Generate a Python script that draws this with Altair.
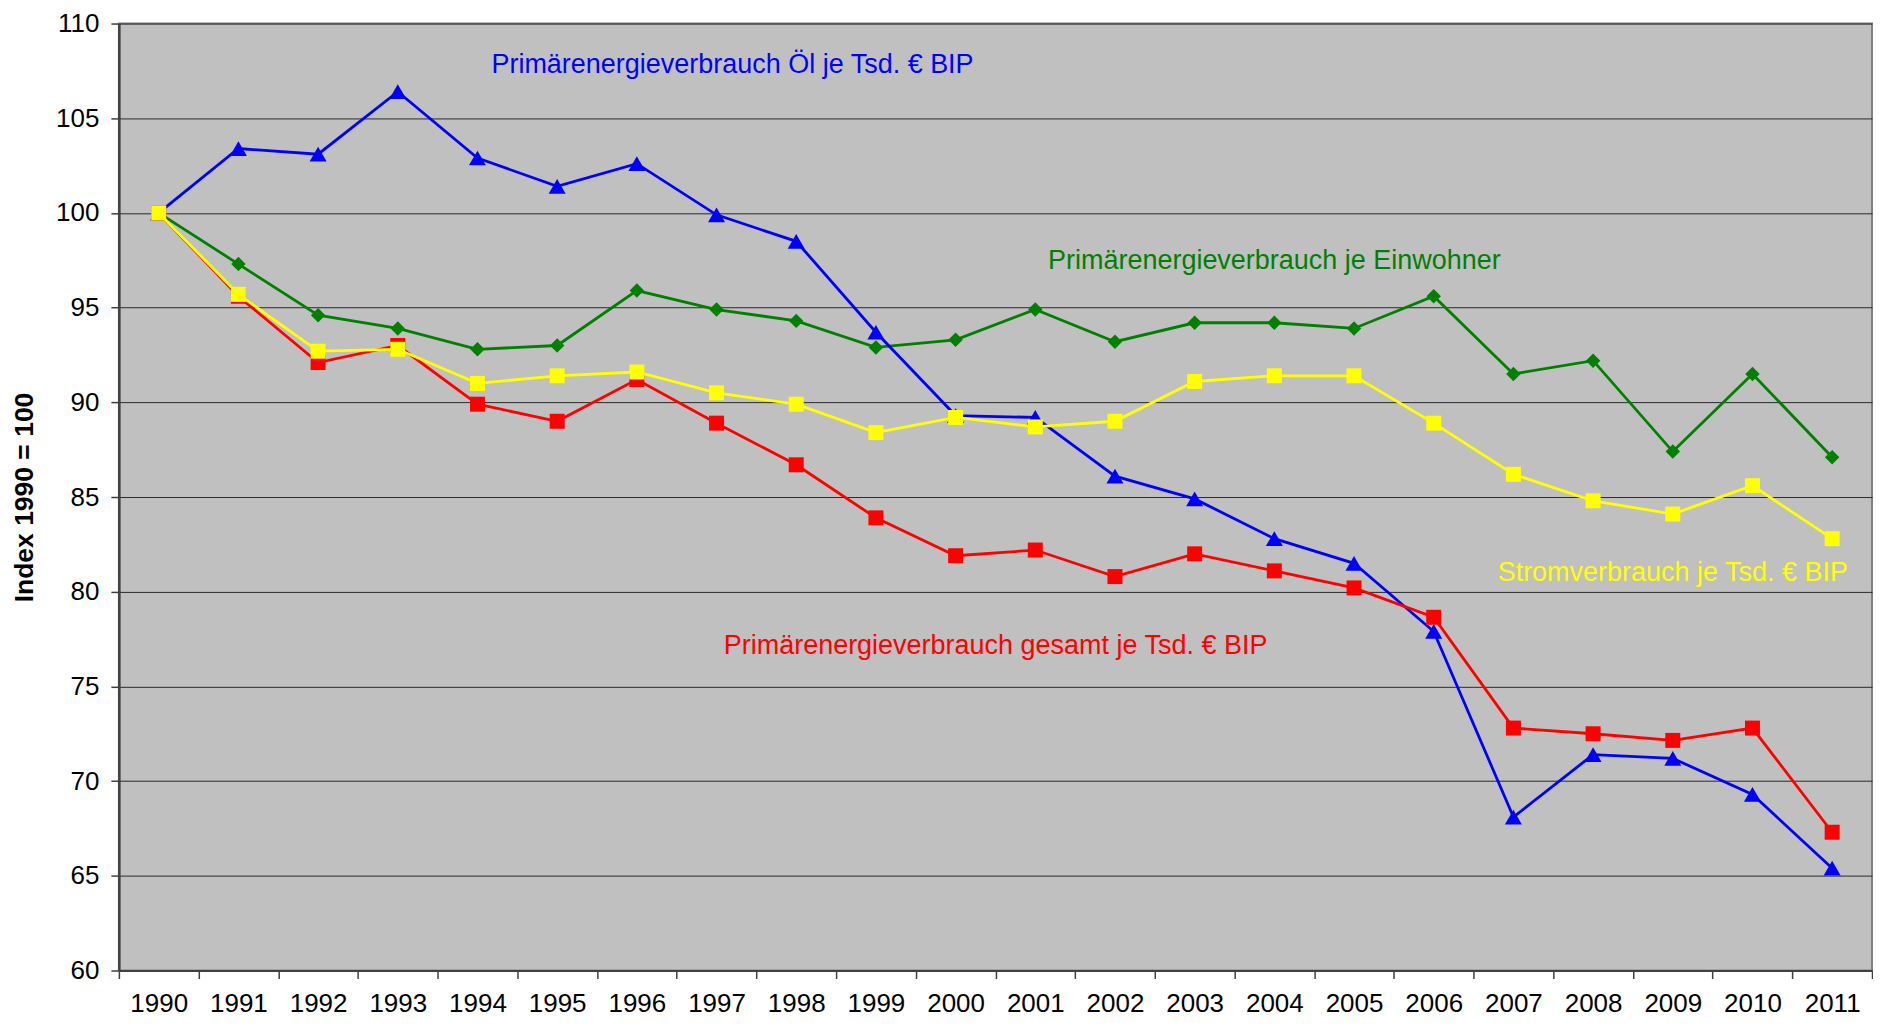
import altair as alt
import pandas as pd

years = list(range(1990, 2012))

oel = [100, 103.4, 103.1, 106.4, 102.9, 101.4, 102.6, 99.9, 98.5, 93.7, 89.3,
       89.2, 86.1, 84.9, 82.8, 81.5, 77.9, 68.1, 71.4, 71.2, 69.3, 65.4]
einwohner = [100, 97.3, 94.6, 93.9, 92.8, 93.0, 95.9, 94.9, 94.3, 92.9, 93.3,
             94.9, 93.2, 94.2, 94.2, 93.9, 95.6, 91.5, 92.2, 87.4, 91.5, 87.1]
strom = [100, 95.7, 92.7, 92.8, 91.0, 91.4, 91.6, 90.5, 89.9, 88.4, 89.2,
         88.7, 89.0, 91.1, 91.4, 91.4, 88.9, 86.2, 84.8, 84.1, 85.6, 82.8]
gesamt = [100, 95.6, 92.1, 93.0, 89.9, 89.0, 91.2, 88.9, 86.7, 83.9, 81.9,
          82.2, 80.8, 82.0, 81.1, 80.2, 78.65, 72.8, 72.5, 72.15, 72.8, 67.3]

label_texts = ["Primärenergieverbrauch Öl je Tsd. € BIP",
               "Primärenergieverbrauch je Einwohner",
               "Stromverbrauch je Tsd. € BIP",
               "Primärenergieverbrauch gesamt je Tsd. € BIP"]
label_years = [1997, 2004, 2009, 2000]
label_values = [107.8, 97.45, 81.0, 77.15]
label_dx = [16, 0, 0, 40]

FONT = "Liberation Sans"

x_enc = alt.X("Jahr:O",
              scale=alt.Scale(type="band", paddingInner=0, paddingOuter=0),
              axis=alt.Axis(title=None, labelAngle=0, tickBand="extent",
                            labelFontSize=26, labelFont=FONT, labelColor="black",
                            labelPadding=12, tickSize=8, tickColor="#404040",
                            tickWidth=1.5, domainColor="#404040", domainWidth=2,
                            grid=False))
y_scale = alt.Scale(domain=[60, 110], nice=False, zero=False)
y_enc = alt.Y("Wert:Q", scale=y_scale,
              axis=alt.Axis(title="Index 1990 = 100", values=list(range(60, 111, 5)),
                            titleFontSize=26.5, titleFont=FONT, titleFontWeight="bold",
                            titleColor="black", titlePadding=17,
                            labelFontSize=26, labelFont=FONT, labelColor="black",
                            labelPadding=12, tickSize=8, tickColor="#404040",
                            tickWidth=1.5, domainColor="#404040", domainWidth=2.5,
                            grid=True, gridColor="#2a2a2a", gridWidth=1))


def series(values, color, shape, size):
    df = pd.DataFrame({"Jahr": years, "Wert": values})
    return alt.Chart(df).mark_line(
        color=color, strokeWidth=2.8,
        point=alt.OverlayMarkDef(shape=shape, size=size, filled=True,
                                 color=color, opacity=1)
    ).encode(x=x_enc, y=y_enc)


label_colors = ["#0000FF", "#008000", "#FFFF00", "#FF0000"]


def label(i):
    df = pd.DataFrame({"Jahr": [label_years[i]], "Wert": [label_values[i]],
                       "t": [label_texts[i]]})
    return alt.Chart(df).mark_text(
        font=FONT, fontSize=27, color=label_colors[i], align="center",
        baseline="middle", dx=label_dx[i]
    ).encode(x=alt.X("Jahr:O"), y=alt.Y("Wert:Q"), text="t:N")


chart = alt.layer(
    series(einwohner, "#008000", "diamond", 210),
    series(oel, "#0000FF", "triangle-up", 290),
    series(gesamt, "#FF0000", "square", 225),
    series(strom, "#FFFF00", "square", 225),
    label(0), label(1), label(2), label(3),
).properties(
    width=1755, height=948,
    padding={"left": 3, "top": 2, "right": 0, "bottom": 0},
    background="white",
).configure_view(
    fill="#C0C0C0", stroke="#808080", strokeWidth=2
)

chart.save("out.html", embed_options={"renderer": "svg", "actions": False})
